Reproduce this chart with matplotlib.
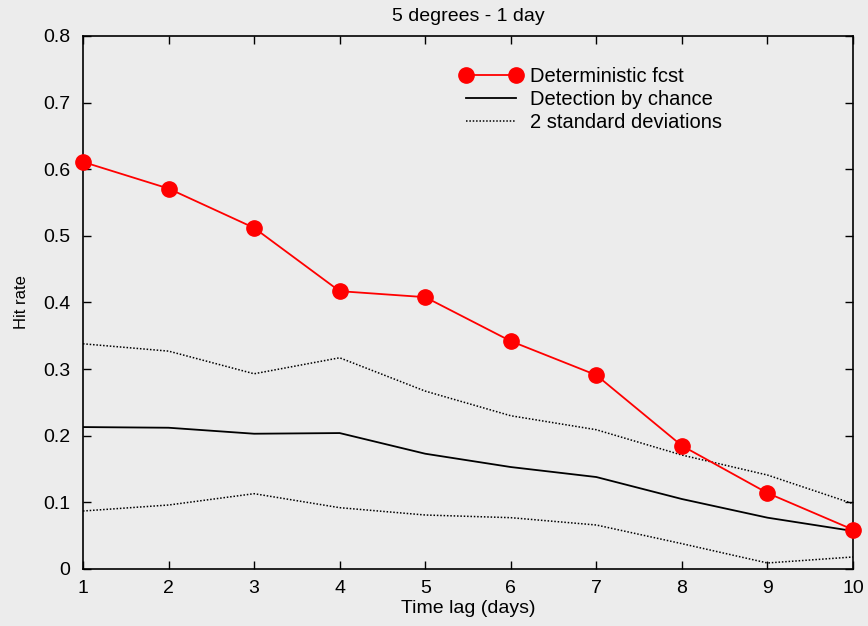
import matplotlib.pyplot as plt

lags = [1, 2, 3, 4, 5, 6, 7, 8, 9, 10]
det_fcst = [0.611, 0.571, 0.512, 0.417, 0.408, 0.342, 0.291, 0.185, 0.114, 0.059]
by_chance = [0.213, 0.212, 0.203, 0.204, 0.173, 0.153, 0.138, 0.105, 0.077, 0.057]
upper_2sd = [0.338, 0.327, 0.293, 0.317, 0.267, 0.230, 0.209, 0.171, 0.141, 0.098]
lower_2sd = [0.087, 0.096, 0.113, 0.092, 0.081, 0.077, 0.066, 0.038, 0.009, 0.018]

bg = '#ececec'
plt.rcParams['font.family'] = ['Liberation Sans', 'DejaVu Sans']

fig = plt.figure(figsize=(8.68, 6.26), dpi=100, facecolor=bg)
ax = fig.add_axes([0.0956, 0.0911, 0.8871, 0.8514], facecolor=bg)

ax.plot(lags, det_fcst, color='red', lw=1.3, marker='o', markersize=11,
        label='Deterministic fcst', clip_on=False, zorder=5)
ax.plot(lags, by_chance, color='black', lw=1.3, label='Detection by chance')
ax.plot(lags, upper_2sd, color='black', lw=1.1, ls=(0, (1, 1.2)),
        label='2 standard deviations')
ax.plot(lags, lower_2sd, color='black', lw=1.1, ls=(0, (1, 1.2)))

ax.set_xlim(1, 10)
ax.set_ylim(0, 0.8)
ax.set_xticks(lags)
ax.set_yticks([0, 0.1, 0.2, 0.3, 0.4, 0.5, 0.6, 0.7, 0.8])
ax.set_yticklabels(['0', '0.1', '0.2', '0.3', '0.4', '0.5', '0.6', '0.7', '0.8'])
ax.tick_params(direction='in', top=True, right=True, length=6, width=1,
               labelsize=14)
ax.tick_params(axis='y', pad=9)
ax.tick_params(axis='x', pad=8)
for s in ax.spines.values():
    s.set_linewidth(1.2)

ax.set_title('5 degrees - 1 day', fontsize=14, pad=11)
ax.set_xlabel('Time lag (days)', fontsize=14, labelpad=2)
ax.set_ylabel('Hit rate', fontsize=12, labelpad=10)

ax.legend(loc='upper left', bbox_to_anchor=(0.479, 0.957), frameon=False,
          fontsize=14.5, numpoints=2, handlelength=3.1, handletextpad=0.4,
          labelspacing=0.2, borderaxespad=0)

fig.savefig('out.png', dpi=100, facecolor=bg)
